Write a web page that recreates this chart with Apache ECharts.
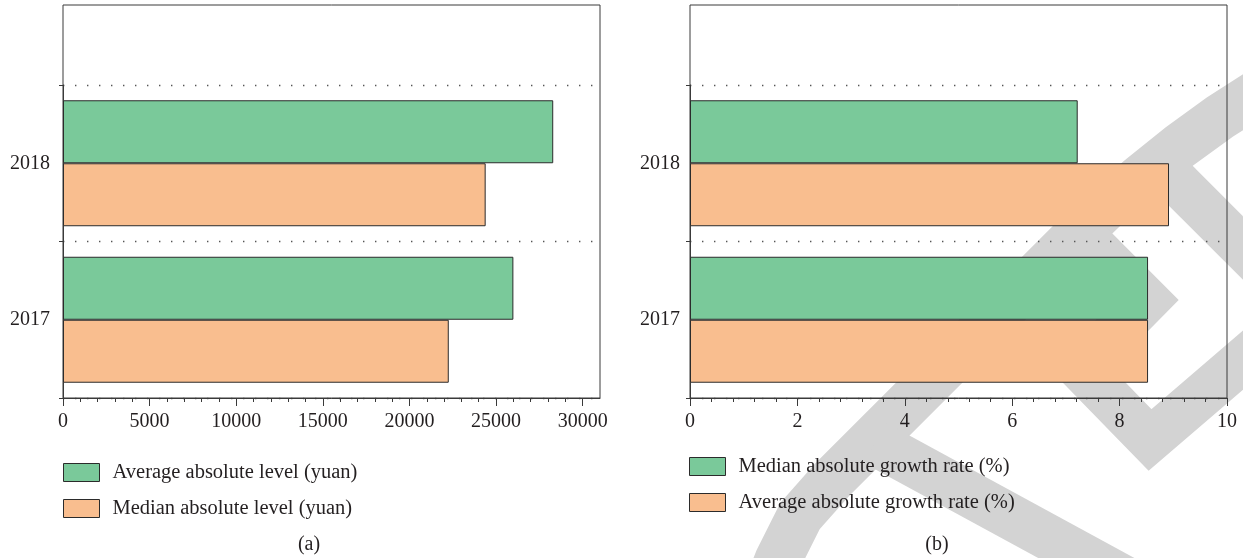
<!DOCTYPE html>
<html>
<head>
<meta charset="utf-8">
<script src="https://cdn.jsdelivr.net/npm/echarts@6/dist/echarts.min.js"></script>
<style>
  html, body { margin: 0; padding: 0; background: #ffffff; }
  #chart { width: 1243px; height: 558px; }
</style>
</head>
<body>
<div id="chart"></div>
<script>
// Income level and growth rate by year
const years = ['2017', '2018'];

const levelNames = ['Average absolute level (yuan)', 'Median absolute level (yuan)'];
const averageLevel = [26000, 28300];
const medianLevel = [22270, 24400];
const levelTicks = [0, 5000, 10000, 15000, 20000, 25000, 30000];

const growthNames = ['Median absolute growth rate (%)', 'Average absolute growth rate (%)'];
const medianGrowth = [8.53, 7.22];
const averageGrowth = [8.53, 8.92];
const growthTicks = [0, 2, 4, 6, 8, 10];

const captions = ['(a)', '(b)'];

const FONT = 'Liberation Serif, Times New Roman, serif';
const INK = '#231f20';
const GREEN = '#7ac99a';
const ORANGE = '#f9be8f';
const EDGE = '#2b2b2b';

const chart = echarts.init(document.getElementById('chart'), null, { renderer: 'canvas' });

// grids 0/1 hold the bars, grids 2/3 draw the surrounding frame
const grids = [
  { left: 63, right: 643, top: 85, bottom: 160 },
  { left: 690, right: 16, top: 85, bottom: 160 },
  { left: 63, right: 643, top: 5, bottom: 160, show: true, borderColor: '#3a3a3a', borderWidth: 1, backgroundColor: 'transparent' },
  { left: 690, right: 16, top: 5, bottom: 160, show: true, borderColor: '#3a3a3a', borderWidth: 1, backgroundColor: 'transparent' }
].map(g => Object.assign({ containLabel: false, outerBoundsMode: 'none' }, g));

function valueAxis(gridIndex, max, interval, ticks) {
  return {
    type: 'value', gridIndex, min: 0, max, interval,
    axisLine: { show: true, lineStyle: { color: '#3a3a3a', width: 1 } },
    axisTick: { show: true, inside: false, length: 8, lineStyle: { color: '#3a3a3a', width: 1 }, customValues: ticks },
    minorTick: { show: true, splitNumber: 5, length: 4, lineStyle: { color: '#3a3a3a', width: 1 } },
    splitLine: { show: false },
    minorSplitLine: { show: false },
    axisLabel: {
      show: true, margin: 14, color: INK, fontFamily: FONT, fontSize: 20,
      customValues: ticks,
      formatter: v => (ticks.indexOf(v) >= 0 ? String(v) : '')
    }
  };
}

function categoryAxis(gridIndex, margin) {
  return {
    type: 'category', gridIndex, data: years, boundaryGap: true,
    axisLine: { show: true, lineStyle: { color: '#3a3a3a', width: 1 } },
    axisTick: { show: true, inside: false, length: 4, alignWithLabel: false, lineStyle: { color: '#3a3a3a', width: 1 } },
    splitLine: { show: true, lineStyle: { color: '#555555', width: 1.3, type: [1.4, 10.6] } },
    axisLabel: { show: true, margin, color: INK, fontFamily: FONT, fontSize: 20 }
  };
}

function hiddenAxes(gridIndex) {
  return [
    { type: 'value', gridIndex, show: false, min: 0, max: 1 },
    { type: 'value', gridIndex, show: false, min: 0, max: 1 }
  ];
}

function barSeries(name, data, color, axisIndex) {
  return {
    type: 'bar', name, data,
    xAxisIndex: axisIndex, yAxisIndex: axisIndex,
    barGap: '0%', barCategoryGap: '19.5%',
    itemStyle: { color, borderColor: EDGE, borderWidth: 1 },
    emphasis: { disabled: true },
    silent: true,
    animation: false
  };
}

function legendFor(names, left, top) {
  return {
    orient: 'vertical', left, top, padding: 0,
    itemWidth: 36, itemHeight: 18, itemGap: 15,
    icon: 'rect', selectedMode: false,
    data: names,
    itemStyle: { borderColor: EDGE, borderWidth: 1 },
    textStyle: { fontFamily: FONT, fontSize: 20.5, color: INK, lineHeight: 18, padding: [0, 0, 0, 8] }
  };
}

// large light-grey strokes lying behind the plots on the right
const WM = '#d3d3d3';
const wmStroke = (points, width) => ({
  type: 'polyline', z: -10, silent: true,
  shape: { points },
  style: { stroke: WM, lineWidth: width, fill: null, lineJoin: 'miter', lineCap: 'butt' }
});
const watermark = [
  wmStroke([[762, 600], [778, 560], [800, 516], [832, 480], [1072, 240], [1105, 208], [1140, 178], [1180, 146], [1220, 117], [1262, 90]], 47),
  wmStroke([[875, 443], [1180, 609]], 46),
  wmStroke([[1150, 155], [1285, 290]], 45),
  wmStroke([[1080, 233], [1147, 300], [1080, 368], [1150, 440], [1278, 330]], 45)
];

const option = {
  backgroundColor: '#ffffff',
  animation: false,
  grid: grids,
  xAxis: [
    valueAxis(0, 31000, 5000, levelTicks),
    valueAxis(1, 10, 2, growthTicks),
    hiddenAxes(2)[0],
    hiddenAxes(3)[0]
  ],
  yAxis: [
    categoryAxis(0, 13),
    categoryAxis(1, 10),
    hiddenAxes(2)[1],
    hiddenAxes(3)[1]
  ],
  legend: [
    legendFor(levelNames, 63, 462),
    legendFor(growthNames, 689, 456)
  ],
  series: [
    barSeries(levelNames[0], averageLevel, GREEN, 0),
    barSeries(levelNames[1], medianLevel, ORANGE, 0),
    barSeries(growthNames[0], medianGrowth, GREEN, 1),
    barSeries(growthNames[1], averageGrowth, ORANGE, 1)
  ],
  graphic: watermark.concat([
    { type: 'text', silent: true, x: 309, y: 545, style: { text: captions[0], fill: INK, font: '20px ' + FONT, textAlign: 'center', textVerticalAlign: 'middle' } },
    { type: 'text', silent: true, x: 937, y: 545, style: { text: captions[1], fill: INK, font: '20px ' + FONT, textAlign: 'center', textVerticalAlign: 'middle' } }
  ])
};

chart.setOption(option);
</script>
</body>
</html>
